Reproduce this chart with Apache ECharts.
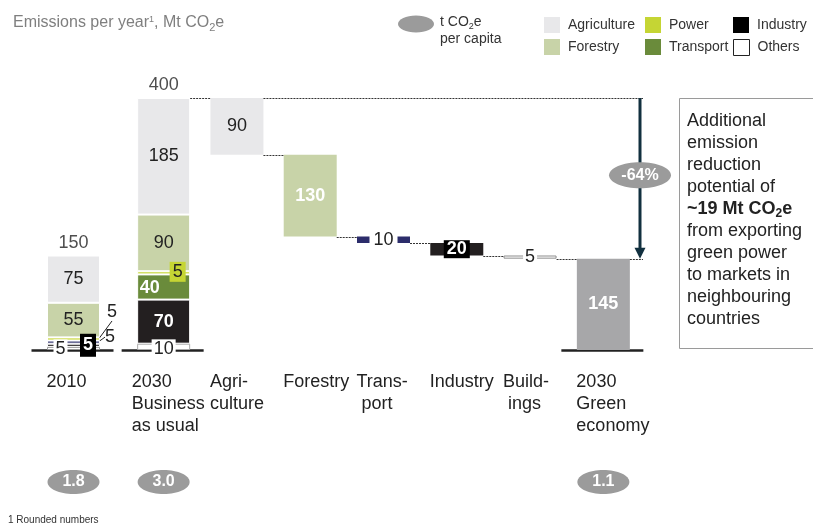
<!DOCTYPE html>
<html><head><meta charset="utf-8">
<script src="https://cdn.jsdelivr.net/npm/echarts@6/dist/echarts.min.js"></script>
<style>html,body{margin:0;padding:0;background:#fff}#c{width:813px;height:526px}</style>
</head><body><div id="c"></div>
<script>
// ---------------- data ----------------
const cat2010 = ['2010'];
const categories = ['2030\nBusiness\nas usual', 'Agri-\nculture', 'Forestry', 'Trans-\n port', 'Industry', 'Build-\n ings', '2030\nGreen\neconomy'];
const sectors = ['Others', 'Industry', 'Transport', 'Power', 'Forestry', 'Agriculture']; // stacked bottom -> top
const values2010 = [5, 5, 5, 5, 55, 75];
const valuesBAU = [10, 70, 40, 5, 90, 185];
const leverNames = ['Agriculture', 'Forestry', 'Transport', 'Industry', 'Buildings'];
const leverReductions = [90, 130, 10, 20, 5];
const greenEconomy = 145;
const perCapita2010 = [[0, 1.8]];
const perCapitaMain = [[0, 3.0], [6, 1.1]];
const exportPotential = 19;

// ---------------- styles ----------------
const FONT = '"Liberation Sans", Arial, Helvetica, sans-serif';
const BAR_W = 53;
const ARROW = '#12303f';
const BUBBLE = '#9b9b9b';
const lbl = (extra) => Object.assign({show: true, position: 'inside', fontFamily: FONT, fontSize: 18, color: '#222'}, extra);

const sum = a => a.reduce((s, v) => s + v, 0);
const total2010 = sum(values2010);
const totalBAU = sum(valuesBAU);
const levels = [totalBAU];
leverReductions.forEach(r => levels.push(levels[levels.length - 1] - r));
const N = categories.length;
const baseData = ['-'].concat(levels.slice(1), ['-']);
const pct = Math.round((greenEconomy - totalBAU) / totalBAU * 100);

const legendColors = {
  Agriculture: {color: '#e8e8ea'}, Forestry: {color: '#c8d3a8'}, Power: {color: '#c5d534'},
  Transport: {color: '#6a8b3b'}, Industry: {color: '#000'}, Others: {color: '#fff', borderColor: '#222', borderWidth: 1}
};

const style2010 = {
  Others: {item: {color: '#fff', borderColor: '#999', borderWidth: 1}, label: lbl({offset: [-13, 1], backgroundColor: '#fff', padding: [0, 2], lineHeight: 20})},
  Industry: {item: {color: '#231f20', borderColor: '#fff', borderWidth: 1}, label: lbl({offset: [14.5, 0], color: '#fff', fontWeight: 'bold', backgroundColor: '#000', padding: [2, 3], lineHeight: 19})},
  Transport: {item: {color: '#2c2d6b', borderColor: '#fff', borderWidth: 1}, label: lbl({position: 'right', distance: 5}), layout: {dy: -5}},
  Power: {item: {color: '#c5d534', borderColor: '#fff', borderWidth: 1}, label: lbl({position: 'right', distance: 7}), layout: {dy: -27}},
  Forestry: {item: {color: '#c8d3a8', borderColor: '#fff', borderWidth: 1}, label: lbl({})},
  Agriculture: {item: {color: '#e8e8ea', borderColor: '#fff', borderWidth: 1}, label: lbl({})}
};
const styleBAU = {
  Others: {item: {color: '#fff', borderColor: '#aaa', borderWidth: 1}, label: lbl({offset: [0, 2], backgroundColor: '#fff', padding: [0, 2], lineHeight: 19})},
  Industry: {item: {color: '#231f20', borderColor: '#fff', borderWidth: 1}, label: lbl({color: '#fff', fontWeight: 'bold'})},
  Transport: {item: {color: '#6a8b3b', borderColor: '#fff', borderWidth: 1}, label: lbl({color: '#fff', fontWeight: 'bold', offset: [-14, 1]})},
  Power: {item: {color: '#c5d534', borderColor: '#fff', borderWidth: 1}, label: lbl({offset: [14, -1], backgroundColor: '#c5d534', padding: [1, 3], lineHeight: 18})},
  Forestry: {item: {color: '#c8d3a8', borderColor: '#fff', borderWidth: 1}, label: lbl({})},
  Agriculture: {item: {color: '#e8e8ea', borderColor: '#fff', borderWidth: 1}, label: lbl({})}
};
const leverItemStyles = [
  {color: '#e8e8ea'}, {color: '#c8d3a8'}, {color: '#2c2d6b'}, {color: '#231f20'},
  {color: '#fff', borderColor: '#8c8c8c', borderWidth: 1}
];
const leverLabels = [
  lbl({}), lbl({color: '#fff', fontWeight: 'bold'}),
  lbl({backgroundColor: '#fff', padding: [0, 4], lineHeight: 18}),
  lbl({color: '#fff', fontWeight: 'bold', backgroundColor: '#000', padding: [0, 3], lineHeight: 18}),
  lbl({backgroundColor: '#fff', padding: [0, 2], lineHeight: 18})
];
const deltaData = ['-'].concat(
  leverReductions.map((v, i) => ({name: leverNames[i], value: v, itemStyle: leverItemStyles[i], label: leverLabels[i]})),
  [{value: greenEconomy, itemStyle: {color: '#a7a7a9'}, label: lbl({color: '#fff', fontWeight: 'bold'})}]
);

// ---------------- series ----------------
const series = [];
sectors.forEach((s, i) => {
  const st = style2010[s];
  const ser = {
    name: s, type: 'bar', xAxisIndex: 0, yAxisIndex: 0, stack: 'y2010', barWidth: BAR_W,
    data: [values2010[i]], itemStyle: st.item, label: st.label, z: 2
  };
  if (st.layout) {
    ser.labelLayout = st.layout;
    ser.labelLine = {show: true, lineStyle: {color: '#222', width: 1}};
  }
  series.push(ser);
});
series.push({name: 'base', type: 'bar', xAxisIndex: 1, yAxisIndex: 1, stack: 'main', barWidth: BAR_W,
  data: baseData, itemStyle: {color: 'rgba(0,0,0,0)'}, silent: true, z: 2});
sectors.forEach((s, i) => {
  const st = styleBAU[s];
  const d = new Array(N).fill('-'); d[0] = valuesBAU[i];
  series.push({name: s, type: 'bar', xAxisIndex: 1, yAxisIndex: 1, stack: 'main', barWidth: BAR_W,
    data: d, itemStyle: st.item, label: st.label, z: 2});
});
series.push({name: 'Reduction', type: 'bar', xAxisIndex: 1, yAxisIndex: 1, stack: 'main', barWidth: BAR_W,
  data: deltaData, z: 2});

// totals
const totalLabel = {show: true, position: 'top', distance: 3, fontFamily: FONT, fontSize: 18, color: '#222', formatter: p => p.value[1]};
series.push({type: 'scatter', xAxisIndex: 0, yAxisIndex: 0, data: [[0, total2010]], symbolSize: 1, itemStyle: {color: 'rgba(0,0,0,0)'}, label: totalLabel, silent: true, clip: false, z: 5});
series.push({type: 'scatter', xAxisIndex: 1, yAxisIndex: 1, data: [[0, totalBAU]], symbolSize: 1, itemStyle: {color: 'rgba(0,0,0,0)'}, label: totalLabel, silent: true, clip: false, z: 5});

// baselines
function renderBase(params, api) {
  const p = api.coord([api.value(0), 0]);
  return {type: 'line', shape: {x1: p[0] - 42, y1: p[1] + 0.5, x2: p[0] + 40, y2: p[1] + 0.5}, style: {stroke: '#222', lineWidth: 2.5}};
}
series.push({type: 'custom', xAxisIndex: 0, yAxisIndex: 0, data: [[0, 0]], renderItem: renderBase, silent: true, z: 1});
series.push({type: 'custom', xAxisIndex: 1, yAxisIndex: 1, data: [[0, 0], [N - 1, 0]], renderItem: renderBase, silent: true, z: 1});

// per-capita bubbles
function renderBubble(params, api) {
  const p = api.coord([api.value(0), 0]);
  const cy = p[1] + 132;
  return {type: 'group', children: [
    {type: 'ellipse', shape: {cx: p[0], cy: cy, rx: 26, ry: 12}, style: {fill: BUBBLE}},
    {type: 'text', style: {text: api.value(1).toFixed(1), x: p[0], y: cy, align: 'center', verticalAlign: 'middle', fill: '#fff', font: 'bold 16px ' + FONT}}
  ]};
}
series.push({name: 'per capita', type: 'custom', xAxisIndex: 0, yAxisIndex: 0, dimensions: ['cat', 'v'], encode: {x: 'cat'}, data: perCapita2010, renderItem: renderBubble, silent: true, z: 5});
series.push({name: 'per capita', type: 'custom', xAxisIndex: 1, yAxisIndex: 1, dimensions: ['cat', 'v'], encode: {x: 'cat'}, data: perCapitaMain, renderItem: renderBubble, silent: true, z: 5});

// waterfall connectors
const connectors = [[0, 1, levels[0]], [1, -1, levels[0]]];
for (let i = 0; i < leverReductions.length; i++) connectors.push([i + 1, i + 2, levels[i + 1]]);
connectors.push([N - 1, -1, greenEconomy]);
function renderConnector(params, api) {
  const from = api.value(0), to = api.value(1), lvl = api.value(2);
  const band = api.size([1, 0])[0];
  const p = api.coord([from, lvl]);
  const x1 = p[0] + BAR_W / 2;
  const x2 = to < 0 ? api.coord([N - 1, lvl])[0] + band / 2 + 3 : api.coord([to, lvl])[0] - BAR_W / 2;
  const y = Math.round(p[1]) + 0.5;
  return {type: 'line', shape: {x1: x1, y1: y, x2: x2, y2: y}, style: {stroke: '#333', lineWidth: 1, lineDash: [2, 1]}};
}
series.push({type: 'custom', xAxisIndex: 1, yAxisIndex: 1, dimensions: ['from', 'to', 'level'], encode: {x: 'from', y: 'level'}, data: connectors, renderItem: renderConnector, silent: true, z: 3});

// reduction arrow
function renderArrow(params, api) {
  const idx = api.value(0);
  const band = api.size([1, 0])[0];
  const x = api.coord([idx, 0])[0] + band / 2;
  const yTop = api.coord([idx, api.value(1)])[1];
  const yBot = api.coord([idx, api.value(2)])[1];
  const cy = (yTop + yBot) / 2 - 3;
  return {type: 'group', children: [
    {type: 'line', shape: {x1: x, y1: yTop, x2: x, y2: yBot - 9}, style: {stroke: ARROW, lineWidth: 3}},
    {type: 'polygon', shape: {points: [[x - 5.5, yBot - 11], [x + 5.5, yBot - 11], [x, yBot]]}, style: {fill: ARROW}},
    {type: 'ellipse', shape: {cx: x, cy: cy, rx: 31, ry: 13}, style: {fill: BUBBLE}},
    {type: 'text', style: {text: api.value(3) + '%', x: x, y: cy, align: 'center', verticalAlign: 'middle', fill: '#fff', font: 'bold 16px ' + FONT}}
  ]};
}
series.push({type: 'custom', xAxisIndex: 1, yAxisIndex: 1, dimensions: ['cat', 'from', 'to', 'pct'], encode: {x: 'cat', y: 'from'}, data: [[N - 1, totalBAU, greenEconomy, pct]], renderItem: renderArrow, silent: true, z: 4});

// ---------------- axes ----------------
const xLabel = {
  show: true, interval: 0, margin: 21, align: 'center', width: 54, overflow: 'none',
  formatter: v => v.split('\n').map(s => '{t|' + s + '}').join('\n'),
  rich: {t: {align: 'left', fontSize: 18, fontFamily: FONT, color: '#222', lineHeight: 22}}
};
const xAxisBase = {type: 'category', axisLine: {show: false}, axisTick: {show: false}, splitLine: {show: false}, axisLabel: xLabel};
const yAxisBase = {type: 'value', min: 0, max: 400, show: false};
// the first main-grid label block is a little wider so that it starts left of its bar, as in the original
const mainAxisData = categories.map((c, i) => i === 0 ? {value: c, textStyle: {width: 64}} : c);

// ---------------- legend ----------------
const legendLayout = [['Agriculture', 544, 17], ['Power', 645, 17], ['Industry', 733, 17], ['Forestry', 544, 39], ['Transport', 645, 39], ['Others', 733, 39]];
const legends = legendLayout.map(([name, left, top]) => ({
  left: left, top: top, padding: 0, itemWidth: 16, itemHeight: 16, selectedMode: false,
  textStyle: {fontFamily: FONT, fontSize: 14, color: '#333', padding: [0, 0, 0, 3]},
  data: [{name: name, icon: 'rect', itemStyle: Object.assign({borderWidth: 0}, legendColors[name])}]
}));

const boxLines = ['Additional', 'emission', 'reduction', 'potential of',
  '{b|~' + exportPotential + ' Mt CO}{bs|2}{b|e}', 'from exporting', 'green power', 'to markets in', 'neighbouring', 'countries'];
const boxText = boxLines.map(l => l.startsWith('{') ? l : '{n|' + l + '}').join('\n');

const chart = echarts.init(document.getElementById('c'));
chart.setOption({
  animation: false,
  textStyle: {fontFamily: FONT},
  title: [
    {left: 8, top: 8, text: '{a|Emissions per year}{s|1}{a|, Mt CO}{b|2}{a|e}',
      textStyle: {fontWeight: 'normal', rich: {
        a: {fontSize: 16, fontWeight: 'normal', color: '#7f7f7f', fontFamily: FONT, lineHeight: 20},
        s: {fontSize: 9, fontWeight: 'normal', color: '#7f7f7f', fontFamily: FONT, verticalAlign: 'top', padding: [2, 0, 0, 0]},
        b: {fontSize: 11, fontWeight: 'normal', color: '#7f7f7f', fontFamily: FONT, verticalAlign: 'bottom'}
      }}},
    {left: 3, top: 510, text: '1 Rounded numbers', textStyle: {fontSize: 10, fontWeight: 'normal', color: '#333', fontFamily: FONT}}
  ],
  legend: legends,
  grid: [
    {left: 37, top: 98, width: 73, height: 252, containLabel: false, outerBoundsMode: 'none'},
    {left: 127, top: 98, width: 513, height: 252, containLabel: false, outerBoundsMode: 'none'}
  ],
  xAxis: [Object.assign({gridIndex: 0, data: cat2010}, xAxisBase), Object.assign({gridIndex: 1, data: mainAxisData}, xAxisBase)],
  yAxis: [Object.assign({gridIndex: 0}, yAxisBase), Object.assign({gridIndex: 1}, yAxisBase)],
  graphic: [
    {type: 'ellipse', shape: {cx: 416, cy: 24, rx: 18, ry: 8.5}, style: {fill: BUBBLE}},
    {type: 'text', style: {x: 440, y: 14, verticalAlign: 'top', text: '{a|t CO}{b|2}{a|e}\n{a|per capita}',
      rich: {a: {fontSize: 14, fontFamily: FONT, fill: '#333', lineHeight: 17}, b: {fontSize: 9, fontFamily: FONT, fill: '#333', verticalAlign: 'bottom'}}}},
    {type: 'rect', shape: {x: 679.5, y: 98.5, width: 140, height: 250}, style: {fill: 'none', stroke: '#9a9a9a', lineWidth: 1}},
    {type: 'text', style: {x: 687, y: 110, verticalAlign: 'top', text: boxText,
      rich: {
        n: {fontSize: 18, fontFamily: FONT, fill: '#222', lineHeight: 22},
        b: {fontSize: 18, fontFamily: FONT, fill: '#222', fontWeight: 'bold', lineHeight: 22},
        bs: {fontSize: 12, fontFamily: FONT, fill: '#222', fontWeight: 'bold', verticalAlign: 'bottom'}
      }}}
  ],
  series: series
});
</script>
</body></html>
